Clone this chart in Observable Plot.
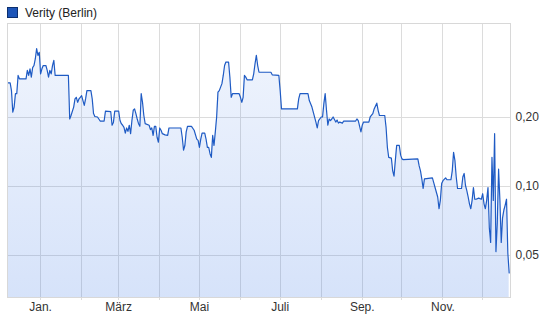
<!DOCTYPE html>
<html>
<head>
<meta charset="utf-8">
<script src="https://cdn.jsdelivr.net/npm/d3@7"></script>
<script src="https://cdn.jsdelivr.net/npm/@observablehq/plot@0.6"></script>
<style>
  body { margin: 0; background: #fff; font-family: Arial, "Liberation Sans", sans-serif; }
  #legend { position: relative; height: 22px; font-size: 12px; color: #222; }
  #legend .swatch { position: absolute; left: 7px; top: 7px; width: 9px; height: 9px; background: #1d55b8; border: 1px solid #0c2f6e; }
  #legend .label { position: absolute; left: 25px; top: 6px; line-height: 14px; white-space: nowrap; }
</style>
</head>
<body>
<div id="legend"><span class="swatch"></span><span class="label">Verity (Berlin)</span></div>
<div id="chart"></div>
<script>
// Closing prices (EUR), Berlin; day = calendar days after the first quote
const startDay = "2010-12-07";
const endDay = "2011-12-22";
const days = [
  0, 2, 3, 4, 5, 6, 7, 8, 9, 14, 15, 16, 17, 18, 19, 20, 21, 22, 23, 24,
  25, 26, 27, 29, 30, 31, 32, 33, 34, 35, 36, 46, 47, 48, 50, 51, 52, 53, 54, 55,
  56, 57, 58, 59, 60, 63, 64, 65, 66, 68, 69, 70, 73, 74, 78, 79, 80, 81, 84, 85,
  86, 87, 88, 89, 90, 91, 92, 93, 94, 95, 96, 97, 98, 99, 100, 101, 102, 103, 104, 107,
  108, 109, 110, 111, 112, 113, 114, 115, 116, 117, 119, 121, 122, 131, 132, 133, 134, 135, 136, 139,
  141, 143, 144, 145, 146, 147, 149, 150, 151, 152, 153, 154, 155, 156, 157, 158, 159, 160, 162, 163,
  164, 165, 167, 168, 169, 170, 175, 176, 177, 178, 179, 180, 181, 185, 186, 187, 188, 189, 190, 199,
  200, 205, 206, 207, 219, 220, 221, 227, 228, 230, 231, 233, 234, 235, 237, 238, 239, 240, 241, 242,
  243, 244, 245, 246, 248, 249, 250, 251, 253, 254, 263, 264, 265, 267, 268, 269, 273, 274, 276, 277,
  279, 280, 281, 285, 286, 287, 288, 290, 291, 292, 293, 294, 296, 297, 298, 299, 310, 311, 312, 313,
  314, 315, 321, 322, 323, 325, 326, 327, 328, 329, 331, 332, 335, 336, 337, 338, 339, 340, 343, 344,
  345, 346, 347, 348, 349, 350, 351, 352, 353, 354, 356, 358, 359, 360, 361, 362, 363, 364, 365, 366,
  367, 368, 369, 370, 371, 372, 373, 374, 375, 376, 377, 378, 379
];
const prices = [
  0.283, 0.283, 0.262, 0.211, 0.222, 0.254, 0.254, 0.305, 0.295, 0.295, 0.321, 0.305, 0.326, 0.300, 0.330, 0.337, 0.360, 0.399, 0.373, 0.385,
  0.310, 0.326, 0.337, 0.337, 0.321, 0.300, 0.321, 0.310, 0.337, 0.355, 0.305, 0.305, 0.197, 0.204, 0.222, 0.241, 0.245, 0.233, 0.241, 0.245,
  0.249, 0.237, 0.226, 0.241, 0.262, 0.262, 0.241, 0.208, 0.202, 0.201, 0.197, 0.193, 0.193, 0.213, 0.212, 0.185, 0.190, 0.213, 0.213, 0.194,
  0.188, 0.185, 0.181, 0.171, 0.180, 0.174, 0.185, 0.170, 0.194, 0.215, 0.218, 0.208, 0.197, 0.188, 0.183, 0.254, 0.233, 0.204, 0.188, 0.185,
  0.177, 0.180, 0.167, 0.183, 0.183, 0.164, 0.156, 0.180, 0.176, 0.170, 0.168, 0.167, 0.180, 0.180, 0.164, 0.144, 0.151, 0.173, 0.183, 0.183,
  0.176, 0.161, 0.159, 0.148, 0.161, 0.171, 0.171, 0.161, 0.148, 0.148, 0.139, 0.134, 0.167, 0.151, 0.173, 0.201, 0.258, 0.262, 0.281, 0.305,
  0.337, 0.349, 0.349, 0.300, 0.245, 0.254, 0.254, 0.245, 0.233, 0.245, 0.305, 0.300, 0.292, 0.292, 0.310, 0.343, 0.373, 0.337, 0.315, 0.315,
  0.307, 0.305, 0.262, 0.218, 0.218, 0.241, 0.254, 0.254, 0.237, 0.222, 0.211, 0.191, 0.180, 0.194, 0.201, 0.201, 0.230, 0.254, 0.215, 0.185,
  0.197, 0.194, 0.197, 0.201, 0.191, 0.195, 0.189, 0.191, 0.189, 0.193, 0.193, 0.197, 0.194, 0.173, 0.185, 0.191, 0.191, 0.201, 0.208, 0.218,
  0.231, 0.215, 0.204, 0.204, 0.181, 0.148, 0.134, 0.133, 0.117, 0.111, 0.130, 0.151, 0.151, 0.137, 0.132, 0.131, 0.132, 0.123, 0.117, 0.108,
  0.098, 0.108, 0.109, 0.104, 0.099, 0.090, 0.080, 0.087, 0.103, 0.106, 0.109, 0.107, 0.107, 0.117, 0.141, 0.130, 0.110, 0.098, 0.098, 0.110,
  0.114, 0.101, 0.096, 0.090, 0.084, 0.080, 0.087, 0.099, 0.088, 0.088, 0.089, 0.088, 0.093, 0.084, 0.080, 0.087, 0.099, 0.066, 0.057, 0.134,
  0.087, 0.170, 0.052, 0.069, 0.119, 0.087, 0.057, 0.073, 0.079, 0.083, 0.088, 0.051, 0.042
];

// Axis ticks
const yTicks = [0.05, 0.10, 0.20];
const xTickMonths = ["2011-01-01", "2011-03-01", "2011-05-01", "2011-07-01", "2011-09-01", "2011-11-01"];
const xTickLabels = ["Jan.", "März", "Mai", "Juli", "Sep.", "Nov."];
const yDomain = [0.0328, 0.514];

const start = new Date(startDay);
const end = new Date(endDay);
const series = days.map((d, i) => ({date: d3.utcDay.offset(start, d), price: prices[i]}));
const monthStarts = d3.utcMonth.range(d3.utcMonth.ceil(start), end);
const labelDates = xTickMonths.map(s => new Date(s));
const labelByTime = new Map(labelDates.map((d, i) => [+d, xTickLabels[i]]));

const innerTop = 1, innerBottom = 299 - 24;

// Vertical gradient for the area under the price line
const gradientDefs = () => {
  const defs = d3.create("svg:defs");
  const g = defs.append("linearGradient")
    .attr("id", "priceFill")
    .attr("gradientUnits", "userSpaceOnUse")
    .attr("x1", 0).attr("x2", 0)
    .attr("y1", innerTop).attr("y2", innerBottom);
  g.append("stop").attr("offset", "0%").attr("stop-color", "#3c78e6").attr("stop-opacity", 0.07);
  g.append("stop").attr("offset", "100%").attr("stop-color", "#3c78e6").attr("stop-opacity", 0.21);
  return defs.node();
};

const chart = Plot.plot({
  width: 552,
  height: 299,
  marginTop: 1,
  marginBottom: 24,
  marginLeft: 7,
  marginRight: 42,
  style: {fontFamily: "Arial, 'Liberation Sans', sans-serif", fontSize: "12px", color: "#333", background: "#fff", overflow: "visible"},
  x: {type: "utc", domain: [start, end]},
  y: {type: "log", domain: yDomain},
  marks: [
    gradientDefs,
    Plot.ruleX(monthStarts, {stroke: "#dcdcdc", insetBottom: -3, shapeRendering: "crispEdges"}),
    Plot.ruleY(yTicks, {stroke: "#dcdcdc", shapeRendering: "crispEdges"}),
    Plot.areaY(series, {x: "date", y1: yDomain[0], y2: "price", fill: "url(#priceFill)"}),
    Plot.lineY(series, {x: "date", y: "price", stroke: "#1f5bc4", strokeWidth: 1.2}),
    Plot.frame({stroke: "#d8d8d8", shapeRendering: "crispEdges"}),
    Plot.axisY(yTicks, {anchor: "right", tickSize: 0, tickPadding: 5, label: null,
      tickFormat: d => d.toFixed(2).replace(".", ",")}),
    Plot.axisX(labelDates, {anchor: "bottom", tickSize: 0, tickPadding: 5, label: null,
      tickFormat: d => labelByTime.get(+d)})
  ]
});
document.getElementById("chart").append(chart);
</script>
</body>
</html>
